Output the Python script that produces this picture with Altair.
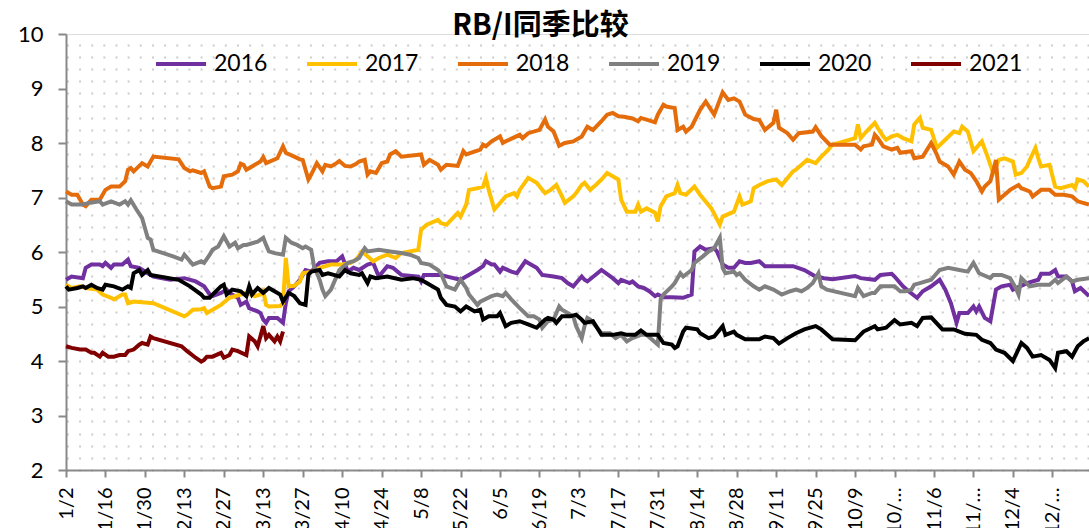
import datetime as dt
import numpy as np
import pandas as pd
import altair as alt

# ---------------- data (days counted from 1/2, ratio values) ----------------
YEARS = ["2016", "2017", "2018", "2019", "2020", "2021"]
COLORS = ["#7030A0", "#FFC000", "#E46C0A", "#808080", "#000000", "#800000"]

TICK_LABELS = ["1/2", "1/16", "1/30", "2/13", "2/27", "3/13", "3/27", "4/10", "4/24",
               "5/8", "5/22", "6/5", "6/19", "7/3", "7/17", "7/31", "8/14", "8/28",
               "9/11", "9/25", "10/9", "10/23", "11/6", "11/20", "12/4", "12/18"]

d2016 = [0,2,6,7,9,12,13,14,16,17,20,22,23,26,29,31,37,42,46,49,51,52,55,57,58,61,62,64,65,68,
         69,70,71,72,75,77,78,79,81,83,85,87,90,93,96,98,100,102,104,107,109,111,114,116,119,125,126,127,133,136,
         140,142,146,148,149,151,152,154,155,158,160,163,164,167,169,173,176,178,180,181,183,184,185,190,194,196,197,200,201,203,
         205,207,209,210,212,215,219,222,223,225,227,230,231,233,235,237,239,241,243,246,248,258,262,266,269,272,280,282,287,289,
         293,294,297,299,302,304,307,310,312,314,316,317,320,322,323,324,326,328,330,332,335,336,341,345,346,349,351,352,355,357,
         358,360,363]
v2016 = [5.49,5.55,5.52,5.71,5.77,5.77,5.74,5.80,5.71,5.77,5.77,5.86,5.74,5.71,5.61,5.55,5.49,5.52,5.46,5.37,
         5.22,5.19,5.25,5.31,5.25,5.16,5.03,5.09,4.97,4.91,4.88,4.76,4.70,4.79,4.79,4.70,5.06,5.28,5.37,5.49,
         5.67,5.64,5.80,5.83,5.83,5.92,5.64,5.71,5.67,5.77,5.80,5.55,5.74,5.71,5.58,5.55,5.46,5.58,5.58,5.54,
         5.49,5.55,5.67,5.74,5.83,5.77,5.77,5.64,5.71,5.64,5.61,5.83,5.80,5.71,5.58,5.55,5.52,5.43,5.37,5.43,
         5.55,5.49,5.46,5.67,5.52,5.43,5.49,5.43,5.46,5.37,5.34,5.28,5.19,5.22,5.17,5.17,5.16,5.22,6.01,6.10,
         6.04,6.07,6.01,5.77,5.71,5.71,5.83,5.80,5.80,5.83,5.74,5.74,5.67,5.55,5.52,5.50,5.56,5.52,5.49,5.58,
         5.60,5.55,5.37,5.28,5.16,5.28,5.37,5.49,5.31,5.06,4.70,4.88,4.88,5.0,4.91,5.0,4.79,4.73,5.31,5.37,
         5.40,5.31,5.43,5.49,5.60,5.60,5.67,5.55,5.55,5.46,5.28,5.34,5.19]

d2017 = [0,2,5,7,11,13,16,17,20,21,22,24,27,31,42,43,45,48,49,50,55,58,62,64,67,69,70,71,72,76,
         77,78,79,81,83,84,87,90,94,98,101,103,105,107,109,111,114,117,119,125,126,128,132,133,135,139,140,142,143,146,
         148,149,150,151,152,154,156,159,160,161,164,167,170,172,174,176,177,180,181,183,184,186,188,190,192,196,197,199,202,203,
         204,206,209,210,211,213,216,217,218,220,223,225,229,232,233,237,239,240,243,244,246,249,252,254,258,259,261,263,266,268,
         270,272,280,281,282,284,287,288,290,291,293,295,297,300,301,303,304,307,309,312,315,317,318,320,322,325,327,329,331,333,
         336,337,339,341,342,344,345,346,349,351,353,357,358,359,361,363]
v2017 = [5.40,5.34,5.37,5.34,5.31,5.22,5.16,5.13,5.22,5.22,5.06,5.09,5.08,5.06,4.82,4.85,4.94,4.95,4.97,4.88,
         5.03,5.16,5.22,5.25,5.19,5.22,5.28,5.03,5.0,5.01,5.06,5.89,5.37,5.38,5.46,5.61,5.64,5.71,5.77,5.77,
         5.80,5.86,6.01,5.92,5.83,5.89,5.95,5.89,5.98,6.04,6.41,6.50,6.59,6.53,6.50,6.72,6.65,6.87,7.14,7.17,
         7.20,7.36,7.14,6.96,6.78,6.90,7.02,7.08,7.02,7.14,7.36,7.27,7.08,7.14,7.23,7.02,6.90,7.02,7.08,7.23,
         7.27,7.14,7.23,7.33,7.45,7.33,6.96,6.74,6.74,6.87,6.74,6.80,6.72,6.56,6.84,7.02,7.08,7.23,7.08,7.05,
         7.20,7.05,6.80,6.50,6.65,6.74,7.02,6.87,6.93,7.17,7.23,7.30,7.33,7.23,7.48,7.51,7.60,7.69,7.63,7.75,
         7.85,7.97,8.09,8.34,8.09,8.21,8.37,8.28,8.12,8.06,8.12,8.15,8.09,8.03,8.34,8.46,8.28,8.24,7.91,8.06,
         8.21,8.18,8.30,8.21,7.85,8.03,7.75,7.45,7.69,7.72,7.66,7.42,7.45,7.57,7.69,7.91,7.72,7.57,7.60,7.20,
         7.17,7.23,7.17,7.33,7.30,7.2]

d2018 = [0,2,4,6,7,9,12,13,14,16,19,21,22,23,24,27,29,31,40,42,44,45,48,49,51,52,55,56,59,61,
         62,63,64,69,70,71,75,77,78,81,83,84,86,87,89,91,92,94,96,97,99,101,103,104,106,107,108,110,112,114,
         115,117,119,126,127,129,132,133,135,139,141,142,147,148,149,151,154,155,156,161,162,164,168,170,171,173,175,177,180,183,
         185,187,190,192,194,196,198,201,203,204,206,209,210,212,213,216,217,219,220,222,225,227,230,233,235,237,239,241,244,246,
         248,251,252,253,256,258,260,265,266,268,271,280,282,283,286,287,288,290,293,295,296,300,301,304,307,309,310,313,315,317,
         319,321,323,325,326,328,330,331,335,338,339,342,343,346,349,351,354,357,359,363]
v2018 = [7.11,7.05,7.05,6.87,6.84,6.96,6.96,7.05,7.14,7.2,7.2,7.3,7.51,7.54,7.48,7.63,7.57,7.75,7.70,7.54,
         7.48,7.50,7.45,7.48,7.2,7.17,7.2,7.39,7.42,7.48,7.62,7.60,7.51,7.66,7.74,7.63,7.72,7.94,7.82,7.75,
         7.70,7.69,7.33,7.42,7.63,7.48,7.60,7.57,7.63,7.67,7.58,7.57,7.62,7.66,7.69,7.42,7.48,7.45,7.63,7.66,
         7.79,7.85,7.75,7.79,7.6,7.69,7.6,7.51,7.6,7.58,7.85,7.79,7.88,7.97,7.94,8.03,8.12,8.0,8.03,8.15,
         8.09,8.18,8.24,8.43,8.30,8.21,7.95,8.0,8.03,8.12,8.30,8.24,8.40,8.52,8.55,8.49,8.48,8.45,8.40,8.46,
         8.43,8.38,8.52,8.70,8.67,8.64,8.24,8.30,8.21,8.30,8.61,8.76,8.52,8.93,8.79,8.82,8.76,8.52,8.44,8.42,
         8.24,8.37,8.61,8.28,8.18,8.06,8.18,8.21,8.29,8.13,7.97,7.97,7.88,7.94,7.97,8.15,8.09,7.94,7.88,7.91,
         7.82,7.85,7.72,7.75,8.0,7.79,7.66,7.57,7.42,7.66,7.51,7.45,7.30,7.11,7.2,7.30,7.69,6.96,7.14,7.23,
         7.17,7.11,7.02,7.14,7.14,7.05,7.05,7.02,6.93,6.87]

d2019 = [0,2,6,8,12,13,16,19,21,22,23,25,27,28,29,30,31,38,41,42,45,48,49,51,52,54,56,58,60,61,
         63,64,68,70,71,72,74,77,78,80,82,84,85,87,88,90,91,92,94,97,100,102,104,106,107,111,115,119,122,125,
         126,129,132,133,135,138,140,142,143,146,147,151,153,155,156,158,161,164,166,168,169,171,173,175,176,178,180,181,183,184,
         185,186,188,190,193,195,197,199,201,204,206,208,210,211,212,215,216,218,219,222,223,226,228,230,232,233,234,237,238,239,
         241,244,246,248,251,254,257,259,261,263,265,267,268,270,280,281,283,286,287,289,294,296,298,300,301,303,307,310,313,317,
         320,322,324,328,329,332,335,337,338,339,342,345,349,351,352,355,357,359,363]
v2019 = [6.93,6.87,6.87,6.90,6.93,6.87,6.93,6.87,6.93,6.87,6.95,6.78,6.62,6.44,6.26,6.23,6.04,5.92,5.86,5.95,
         5.77,5.83,5.80,5.95,6.04,6.10,6.29,6.10,6.17,6.07,6.13,6.13,6.19,6.26,6.13,6.01,5.98,5.95,6.26,6.17,
         6.13,6.07,6.10,6.04,5.74,5.49,5.31,5.19,5.31,5.67,5.80,5.83,5.89,6.07,6.01,6.04,6.01,5.98,5.95,5.89,
         5.80,5.77,5.67,5.61,5.37,5.31,5.49,5.34,5.22,5.03,5.09,5.19,5.22,5.19,5.25,5.13,4.97,4.82,4.82,4.76,
         4.61,4.73,4.76,5.0,4.94,4.88,4.82,4.64,4.42,4.64,4.79,4.76,4.64,4.51,4.51,4.42,4.48,4.36,4.42,4.48,
         4.48,4.39,4.30,5.13,5.22,5.37,5.43,5.61,5.55,5.67,5.80,5.92,6.01,6.07,6.26,5.71,5.61,5.64,5.58,5.61,
         5.49,5.37,5.31,5.37,5.31,5.22,5.28,5.31,5.28,5.34,5.43,5.61,5.37,5.31,5.19,5.34,5.19,5.25,5.25,5.37,
         5.37,5.28,5.28,5.31,5.40,5.43,5.49,5.67,5.71,5.67,5.64,5.80,5.61,5.52,5.58,5.58,5.52,5.34,5.22,5.52,
         5.37,5.40,5.40,5.49,5.43,5.55,5.46,5.49,5.52]

d2020 = [0,1,4,6,7,9,11,13,14,17,20,22,23,24,26,27,29,30,40,44,48,49,51,52,55,56,57,59,62,64,
         65,66,68,70,72,74,76,77,79,81,83,85,86,87,90,91,93,95,97,99,101,104,105,107,108,110,114,119,123,126,
         128,132,133,135,138,140,142,145,147,148,150,153,154,156,158,161,164,167,170,171,173,174,176,179,181,183,184,187,190,194,
         197,199,202,204,206,210,212,215,216,217,219,220,224,225,228,230,233,234,237,238,241,246,248,251,253,256,259,262,266,268,
         272,280,283,287,288,291,294,296,300,302,304,307,311,315,319,323,325,328,330,333,336,339,341,343,346,349,351,352,355,357,
         359,361,363]
v2020 = [5.37,5.31,5.34,5.37,5.34,5.40,5.34,5.31,5.40,5.37,5.31,5.37,5.34,5.61,5.67,5.58,5.67,5.58,5.49,5.37,
         5.22,5.16,5.16,5.22,5.37,5.40,5.22,5.31,5.28,5.19,5.37,5.22,5.34,5.25,5.34,5.28,5.22,5.09,5.25,5.19,
         5.06,5.03,5.58,5.64,5.67,5.58,5.61,5.58,5.55,5.67,5.61,5.58,5.61,5.43,5.55,5.52,5.55,5.49,5.52,5.49,
         5.43,5.31,5.16,5.03,5.0,4.91,5.0,4.91,4.94,4.76,4.82,4.82,4.88,4.64,4.70,4.73,4.67,4.61,4.76,4.79,
         4.76,4.70,4.82,4.82,4.85,4.76,4.70,4.73,4.48,4.48,4.51,4.48,4.48,4.56,4.48,4.48,4.33,4.30,4.24,4.27,
         4.54,4.61,4.58,4.51,4.42,4.45,4.64,4.48,4.54,4.48,4.40,4.40,4.45,4.42,4.32,4.42,4.51,4.58,4.64,4.58,
         4.40,4.38,4.54,4.64,4.58,4.61,4.75,4.67,4.70,4.64,4.79,4.80,4.58,4.58,4.50,4.48,4.39,4.33,4.21,4.15,
         4.0,4.33,4.24,4.08,4.11,4.02,3.87,4.15,4.18,4.08,4.27,4.36,4.42]

d2021 = [0,2,5,7,9,10,12,13,15,17,19,21,22,24,26,27,29,30,31,41,43,46,48,49,50,52,55,56,58,59,
         61,64,65,67,68,70,71,72,74,75,76,77]
v2021 = [4.27,4.24,4.21,4.21,4.15,4.15,4.08,4.15,4.08,4.08,4.11,4.11,4.18,4.21,4.30,4.33,4.30,4.45,4.42,4.27,
         4.18,4.06,3.99,4.02,4.08,4.08,4.15,4.06,4.11,4.21,4.18,4.11,4.45,4.36,4.27,4.64,4.42,4.48,4.36,4.45,
         4.36,4.54]

SERIES = {"2016": (d2016, v2016), "2017": (d2017, v2017), "2018": (d2018, v2018),
          "2019": (d2019, v2019), "2020": (d2020, v2020), "2021": (d2021, v2021)}

TITLE = "RB/I同季比较"

# ---------------- build table ----------------
BASE = dt.date(2021, 1, 2)
rows = []
for yr, (ds, vs) in SERIES.items():
    n = min(len(ds), len(vs))
    for d, v in zip(ds[:n], vs[:n]):
        rows.append({"year": yr,
                     "date": (BASE + dt.timedelta(days=int(d))).isoformat() + "T00:00:00",
                     "value": v})
df = pd.DataFrame(rows)

tick_values = [alt.DateTime(year=2021, month=int(s.split("/")[0]), date=int(s.split("/")[1]))
               for s in TICK_LABELS]

FONT = "Lato"
AX = "#898989"

x_scale = alt.Scale(domain=[alt.DateTime(year=2021, month=1, date=2),
                            alt.DateTime(year=2021, month=12, date=31)], nice=False)
y_scale = alt.Scale(domain=[2, 10], nice=False, zero=False)

x_axis = alt.Axis(values=tick_values,
                  labelExpr="(month(datum.value)+1) + '/' + date(datum.value)",
                  labelAngle=-90, labelAlign="right", labelBaseline="middle",
                  labelFont=FONT, labelFontSize=20, labelColor="#000000",
                  labelLimit=48, labelOverlap=False, labelFlush=False,
                  labelPadding=10, tickSize=7, tickColor=AX, tickWidth=2,
                  domainColor=AX, domainWidth=2, grid=False, title=None)

y_axis = alt.Axis(values=[2, 3, 4, 5, 6, 7, 8, 9, 10], labelFont=FONT, labelFontSize=22,
                  labelColor="#000000", labelPadding=15, tickSize=8, tickColor=AX,
                  tickWidth=2, domainColor=AX, domainWidth=2, grid=False, title=None)

lines = alt.Chart(df).mark_line(strokeWidth=4).encode(
    x=alt.X("date:T", scale=x_scale, axis=x_axis),
    y=alt.Y("value:Q", scale=y_scale, axis=y_axis),
    color=alt.Color("year:N", scale=alt.Scale(domain=YEARS, range=COLORS),
                    legend=alt.Legend(orient="none", legendX=88, legendY=3,
                                      direction="horizontal", columns=6,
                                      symbolType="stroke", symbolSize=2500,
                                      symbolStrokeWidth=4, labelFont=FONT,
                                      labelFontSize=23, labelColor="#000000",
                                      labelOffset=6, columnPadding=31,
                                      padding=0, title=None)),
)

# light dotted background texture (grid lines drawn as dots)
dot_rows = list(np.arange(2, 10.01, 12.15 / 54.5))
dots = alt.Chart(df).mark_line(opacity=0).encode(
    x=alt.X("date:T", scale=x_scale, axis=x_axis),
    y=alt.Y("value:Q", scale=y_scale,
            axis=alt.Axis(orient="right", values=dot_rows, grid=True, gridColor="#cccccc",
                          gridDash=[2, 10.15], gridWidth=2, labels=False, ticks=False,
                          domain=False, title=None)),
    detail="year:N",
)

chart = alt.layer(lines, dots).resolve_axis(y="independent").properties(
    width=1023, height=436,
    autosize=alt.AutoSizeParams(type="none"),
    padding={"left": 66, "top": 34, "right": 0, "bottom": 58},
    title=alt.Title(TITLE, font="Noto Sans CJK SC", fontSize=29,
                    fontWeight="bold", color="#000000", anchor="middle", dx=-37, dy=22),
).configure_view(stroke=None).configure(background="#ffffff")

chart.save("out.html", embed_options={"renderer": "svg", "actions": False})
